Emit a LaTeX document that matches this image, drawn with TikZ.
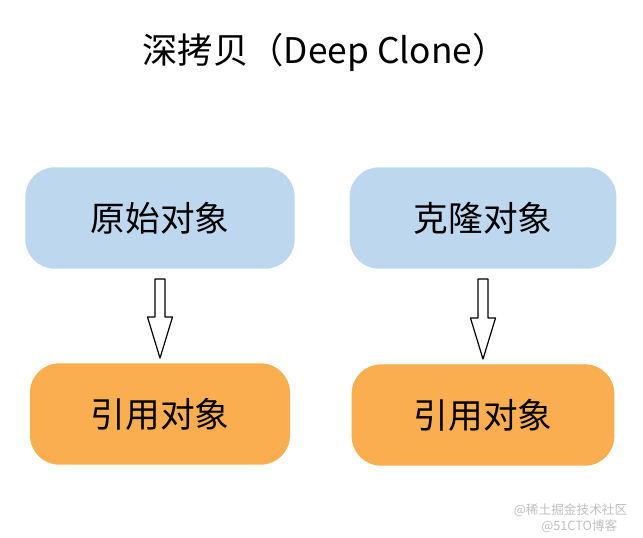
\documentclass[tikz,border=0pt]{standalone}
\usepackage{fontspec}
\setmainfont{Noto Sans CJK SC}
\usetikzlibrary{calc, positioning}
\definecolor{srcblue}{RGB}{189,215,238}
\definecolor{refgold}{RGB}{250,174,80}
\tikzset{
  objbox/.style={rounded corners=22pt, minimum width=200pt, minimum height=76pt, font=\fontsize{26}{30}\selectfont, inner sep=0pt},
  hollow/.style={draw, line width=0.9pt, fill=white, line join=round},
  mark text/.style={text=black!25, font=\fontsize{9.5}{11}\selectfont}
}
\begin{document}
\begin{tikzpicture}[x=0.75pt, y=-0.75pt]
\useasboundingbox (0,0) rectangle (643,538);
\def\sw{5}
\def\hw{12.5}
% title
\node (title) at (325,52) {\fontsize{26.5}{30}\selectfont 深拷贝（Deep Clone）};

% left column
\node[objbox, fill=srcblue, minimum width=202pt] (orig) at (160,218) {原始对象};
\node[objbox, fill=refgold, minimum width=195pt] (refA) at (160,414) {引用对象};
% right column
\node[objbox, fill=srcblue] (clone) at (483,218) {克隆对象};
\node[objbox, fill=refgold, minimum width=197pt] (refB) at (483,415) {引用对象};

% hollow arrows
\foreach \a/\b in {orig/refA, clone/refB} {
  \coordinate (top) at ($(\a.south)+(0,10)$);
  \coordinate (tip) at ($(\b.north)+(0,-5)$);
  \draw[hollow] ($(top)+(-\sw,0)$) -- ($(top)+(\sw,0)$) -- ($(tip)+(\sw,-41)$)
    -- ($(tip)+(\hw,-41)$) -- (tip) -- ($(tip)+(-\hw,-41)$)
    -- ($(tip)+(-\sw,-41)$) -- cycle;
}

% watermark
\node[mark text, anchor=east] (wm1) at (632,510) {@稀土掘金技术社区};
\node[mark text, anchor=east] (wm2) at (622,526) {@51CTO博客};
\end{tikzpicture}
\end{document}
